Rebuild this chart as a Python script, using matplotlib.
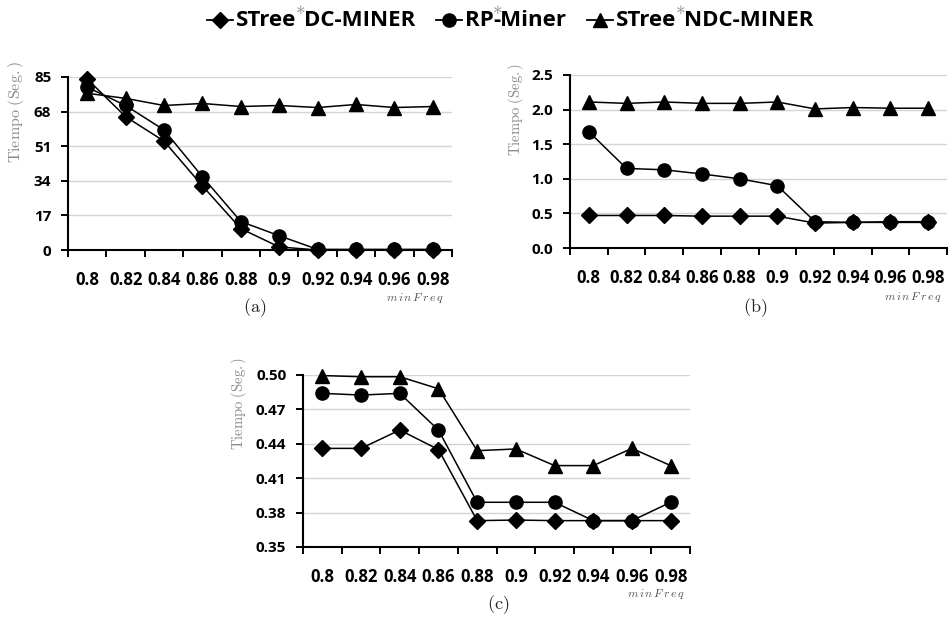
import matplotlib
matplotlib.use("Agg")
import matplotlib.pyplot as plt
from matplotlib.lines import Line2D
import numpy as np

plt.rcParams['mathtext.fontset'] = 'cm'

W, H = 951, 621

categories = ['0.8', '0.82', '0.84', '0.86', '0.88', '0.9', '0.92', '0.94', '0.96', '0.98']

# Panel (a)
a_dc = [84, 65.5, 53.5, 31.5, 10.5, 1.5, 0, 0, 0, 0]
a_rp = [80, 71, 59, 36, 14, 7, 0.3, 0.3, 0.3, 0.3]
a_ndc = [77, 74.5, 71, 72, 70.5, 71, 70, 71.5, 70, 70.5]
# Panel (b)
b_dc = [0.47, 0.47, 0.47, 0.46, 0.46, 0.46, 0.36, 0.37, 0.37, 0.37]
b_rp = [1.68, 1.15, 1.13, 1.07, 1.0, 0.9, 0.38, 0.37, 0.38, 0.38]
b_ndc = [2.11, 2.09, 2.11, 2.09, 2.09, 2.11, 2.01, 2.03, 2.02, 2.02]
# Panel (c)
c_dc = [0.436, 0.436, 0.452, 0.435, 0.373, 0.3735, 0.373, 0.373, 0.373, 0.373]
c_rp = [0.484, 0.4825, 0.484, 0.452, 0.389, 0.389, 0.389, 0.373, 0.373, 0.389]
c_ndc = [0.4995, 0.4985, 0.4985, 0.488, 0.434, 0.4355, 0.421, 0.421, 0.436, 0.421]

a_yticks = [0, 17, 34, 51, 68, 85]
b_yticks = [0.0, 0.5, 1.0, 1.5, 2.0, 2.5]
c_yticks = [0.35, 0.38, 0.41, 0.44, 0.47, 0.50]

fig = plt.figure(figsize=(W / 100, H / 100), dpi=100)

TICKFONT = 'Open Sans'
MINFREQ = r'$m\,i\,n\,F\,r\,e\,q$'

def px_axes(left, right, top, bottom):
    return fig.add_axes([left / W, 1 - bottom / H, (right - left) / W, (bottom - top) / H])

def style(ax, yticks, fmt, sub, ylab_px, minf_px, sub_px, ylab_size):
    x = np.arange(len(categories))
    ax.set_xlim(-0.5, len(categories) - 0.5)
    ax.set_ylim(yticks[0], yticks[-1])
    ax.set_xticks(x)
    ax.set_xticklabels(categories, fontfamily=TICKFONT, fontweight='bold', fontsize=12)
    ax.set_xticks(np.arange(-0.5, len(categories)), minor=True)
    ax.tick_params(axis='x', which='major', length=0, pad=15)
    ax.tick_params(axis='x', which='minor', length=5, width=1.4, direction='out', color='black')
    ax.set_yticks(yticks)
    ax.set_yticklabels([fmt % v for v in yticks], fontfamily=TICKFONT, fontweight='bold', fontsize=11)
    ax.tick_params(axis='y', length=5, width=1.4, pad=7, color='black')
    for s in ['top', 'right']:
        ax.spines[s].set_visible(False)
    for s in ['left', 'bottom']:
        ax.spines[s].set_linewidth(1.5)
        ax.spines[s].set_color('black')
    for v in yticks[1:]:
        ax.axhline(v, color='#d4d4d4', lw=1.0, zorder=0)
    fig.text(ylab_px[0] / W, 1 - ylab_px[1] / H, r'$\mathrm{Tiempo\ (Seg.)}$', rotation=90,
             ha='center', va='center', color='#8a8a8a', fontsize=ylab_size)
    fig.text(minf_px[0] / W, 1 - minf_px[1] / H, MINFREQ, ha='right', va='center',
             fontsize=8.5, color='#555555')
    fig.text(sub_px[0] / W, 1 - sub_px[1] / H, r'$\mathrm{(' + sub + ')}$', ha='center',
             va='center', fontsize=13, color='#222222')

def plot_series(ax, dc, rp, ndc):
    x = np.arange(len(categories))
    ax.plot(x, dc, color='black', lw=1.1, marker='D', markersize=8, zorder=3, clip_on=False)
    ax.plot(x, ndc, color='black', lw=1.1, marker='^', markersize=10, zorder=3.1, clip_on=False)
    ax.plot(x, rp, color='black', lw=1.1, marker='o', markersize=9.5, zorder=3.2, clip_on=False)

axa = px_axes(68, 452, 77, 250)
plot_series(axa, a_dc, a_rp, a_ndc)
style(axa, a_yticks, '%d', 'a', (16, 112), (444, 298), (255, 308), 11.5)

axb = px_axes(570, 947, 75, 248)
plot_series(axb, b_dc, b_rp, b_ndc)
style(axb, b_yticks, '%.1f', 'b', (516, 109), (942, 297), (755, 308), 10.5)

axc = px_axes(303, 690, 375, 547)
plot_series(axc, c_dc, c_rp, c_ndc)
style(axc, c_yticks, '%.2f', 'c', (239, 403), (685, 594), (498, 605), 10.5)

# ---- Legend (manual) ----
fig.canvas.draw()
r = fig.canvas.get_renderer()
LEG_Y = 20
LEGFONT = dict(fontfamily=TICKFONT, fontweight='bold', fontsize=16, color='black')

def put(xp, yp, s, **kw):
    t = fig.text(xp / W, 1 - yp / H, s, ha='left', va='center', **kw)
    bb = t.get_window_extent(r)
    return xp + bb.width

def star(xp):
    fig.text(xp / W, 1 - 9 / H, r'$\ast$', ha='center', va='center', fontsize=14, color='#8a8a8a')

def handle(x0, marker, ms):
    x1 = x0 + 26
    fig.add_artist(Line2D([x0 / W, x1 / W], [1 - LEG_Y / H] * 2, transform=fig.transFigure,
                          color='black', lw=1.3))
    fig.add_artist(Line2D([(x0 + x1) / 2 / W], [1 - LEG_Y / H], transform=fig.transFigure,
                          color='black', marker=marker, markersize=ms, lw=0))
    return x1 + 3

legend_entries = [('D', 8, 'STree', 'DC-MINER', 8),
                  ('o', 9.5, 'RP', '-Miner', 0),
                  ('^', 10, 'STree', 'NDC-MINER', 8)]
x = 207
for marker, ms, t1, t2, adv in legend_entries:
    x = handle(x, marker, ms)
    x = put(x, LEG_Y, t1, **LEGFONT)
    star(x + 4)
    x = put(x + adv, LEG_Y, t2, **LEGFONT)
    x += 20

fig.savefig('out.png', dpi=100)
